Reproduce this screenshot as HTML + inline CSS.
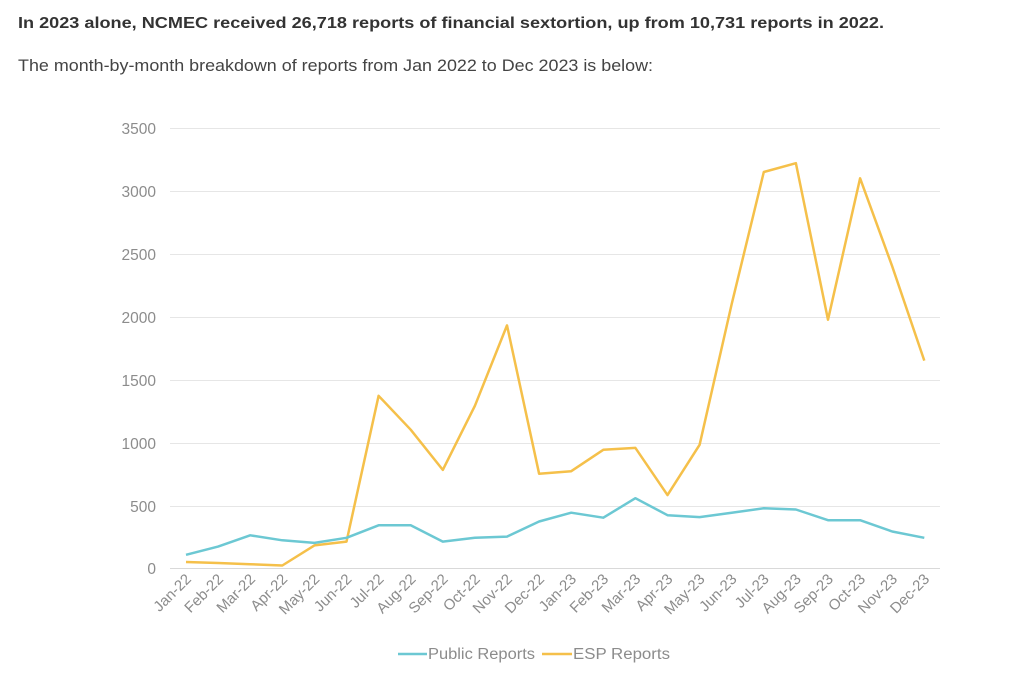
<!DOCTYPE html>
<html><head><meta charset="utf-8"><style>
body{margin:0;background:#fff;width:1024px;height:689px;overflow:hidden;font-family:"Liberation Sans",sans-serif}
</style></head><body>
<svg width="1024" height="689" xmlns="http://www.w3.org/2000/svg" font-family="Liberation Sans, sans-serif">
<text x="18" y="28" font-size="16" font-weight="bold" fill="#333" textLength="866" lengthAdjust="spacingAndGlyphs">In 2023 alone, NCMEC received 26,718 reports of financial sextortion, up from 10,731 reports in 2022.</text>
<text x="18" y="71" font-size="16.5" fill="#444" textLength="635" lengthAdjust="spacingAndGlyphs">The month-by-month breakdown of reports from Jan 2022 to Dec 2023 is below:</text>
<g stroke="#e6e6e6" stroke-width="1">
<line x1="170" x2="940" y1="128.5" y2="128.5"/><line x1="170" x2="940" y1="191.5" y2="191.5"/>
<line x1="170" x2="940" y1="254.5" y2="254.5"/><line x1="170" x2="940" y1="317.5" y2="317.5"/>
<line x1="170" x2="940" y1="380.5" y2="380.5"/><line x1="170" x2="940" y1="443.5" y2="443.5"/>
<line x1="170" x2="940" y1="506.5" y2="506.5"/><line x1="170" x2="940" y1="568.5" y2="568.5" stroke="#d9d9d9"/>
</g>
<g font-size="15.5" fill="#8c8c8c" text-anchor="end">
<text x="156" y="134">3500</text><text x="156" y="197">3000</text><text x="156" y="260">2500</text>
<text x="156" y="323">2000</text><text x="156" y="386">1500</text><text x="156" y="449">1000</text>
<text x="156" y="512">500</text><text x="156" y="574">0</text>
</g>
<polyline fill="none" stroke="#f5c04a" stroke-width="2.5" stroke-linejoin="round" points="186,562 218.1,563 250.2,564.2 282.3,565.5 314.4,545.4 346.5,541.6 378.6,395.8 410.7,429.7 442.8,469.9 474.9,405.8 507,325.4 539.1,473.7 571.2,471.2 603.3,449.8 635.4,447.9 667.5,495.1 699.6,444.8 731.7,304 763.8,172 795.9,163.2 828,319.7 860.1,178.3 892.2,266.3 924.3,360.6"/>
<polyline fill="none" stroke="#6cc8d3" stroke-width="2.5" stroke-linejoin="round" points="186,554.8 218.1,546.6 250.2,535.3 282.3,540.3 314.4,542.9 346.5,537.8 378.6,525.3 410.7,525.3 442.8,541.6 474.9,537.8 507,536.6 539.1,521.5 571.2,512.7 603.3,517.7 635.4,498.2 667.5,515.2 699.6,517.1 731.7,512.7 763.8,508.3 795.9,509.5 828,520.2 860.1,520.2 892.2,531.5 924.3,537.8"/>
<g font-size="15" fill="#8c8c8c" text-anchor="end">
<text transform="translate(192,580) rotate(-45)">Jan-22</text>
<text transform="translate(224.1,580) rotate(-45)">Feb-22</text>
<text transform="translate(256.2,580) rotate(-45)">Mar-22</text>
<text transform="translate(288.3,580) rotate(-45)">Apr-22</text>
<text transform="translate(320.4,580) rotate(-45)">May-22</text>
<text transform="translate(352.5,580) rotate(-45)">Jun-22</text>
<text transform="translate(384.6,580) rotate(-45)">Jul-22</text>
<text transform="translate(416.7,580) rotate(-45)">Aug-22</text>
<text transform="translate(448.8,580) rotate(-45)">Sep-22</text>
<text transform="translate(480.9,580) rotate(-45)">Oct-22</text>
<text transform="translate(513,580) rotate(-45)">Nov-22</text>
<text transform="translate(545.1,580) rotate(-45)">Dec-22</text>
<text transform="translate(577.2,580) rotate(-45)">Jan-23</text>
<text transform="translate(609.3,580) rotate(-45)">Feb-23</text>
<text transform="translate(641.4,580) rotate(-45)">Mar-23</text>
<text transform="translate(673.5,580) rotate(-45)">Apr-23</text>
<text transform="translate(705.6,580) rotate(-45)">May-23</text>
<text transform="translate(737.7,580) rotate(-45)">Jun-23</text>
<text transform="translate(769.8,580) rotate(-45)">Jul-23</text>
<text transform="translate(801.9,580) rotate(-45)">Aug-23</text>
<text transform="translate(834,580) rotate(-45)">Sep-23</text>
<text transform="translate(866.1,580) rotate(-45)">Oct-23</text>
<text transform="translate(898.2,580) rotate(-45)">Nov-23</text>
<text transform="translate(930.3,580) rotate(-45)">Dec-23</text>
</g>
<line x1="398" x2="427" y1="654" y2="654" stroke="#6cc8d3" stroke-width="2.5"/>
<text x="428" y="659" font-size="15.5" fill="#8c8c8c" textLength="107" lengthAdjust="spacingAndGlyphs">Public Reports</text>
<line x1="542" x2="572" y1="654" y2="654" stroke="#f5c04a" stroke-width="2.5"/>
<text x="573" y="659" font-size="15.5" fill="#8c8c8c" textLength="97" lengthAdjust="spacingAndGlyphs">ESP Reports</text>
</svg>
</body></html>
